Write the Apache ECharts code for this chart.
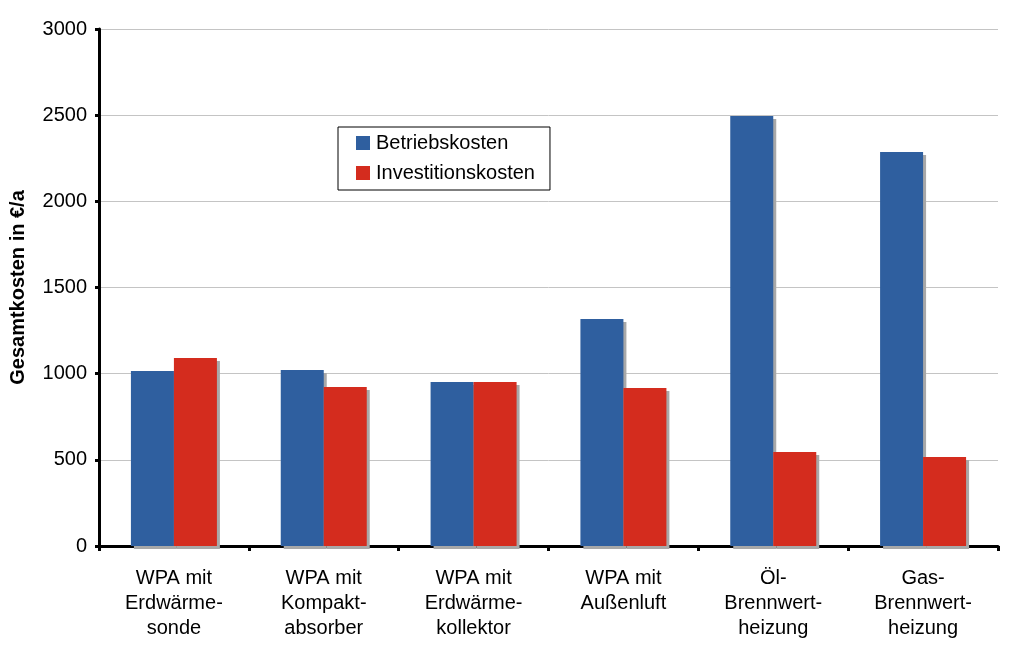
<!DOCTYPE html>
<html><head><meta charset="utf-8">
<script src="https://cdn.jsdelivr.net/npm/echarts@6/dist/echarts.min.js"></script>
<style>html,body{margin:0;padding:0;background:#fff}#c{width:1024px;height:656px}</style>
</head><body><div id="c"></div>
<script>
const categories = ["WPA mit\nErdwärme-\nsonde","WPA mit\nKompakt-\nabsorber","WPA mit\nErdwärme-\nkollektor","WPA mit\nAußenluft","Öl-\nBrennwert-\nheizung","Gas-\nBrennwert-\nheizung"];
const betriebskosten = [1015, 1021, 952, 1317, 2495, 2286];
const investitionskosten = [1091, 923, 952, 917, 545, 516];
const yTicks = [0, 500, 1000, 1500, 2000, 2500, 3000];

const chart = echarts.init(document.getElementById('c'));
const font = 'Liberation Sans, Arial, sans-serif';
const shadow = {shadowColor:'#a8a8a8', shadowOffsetX:3, shadowOffsetY:3, shadowBlur:0};
chart.setOption({
  animation:false,
  backgroundColor:'#fff',
  textStyle:{fontFamily:font},
  grid:{left:99, right:26, top:29, bottom:110, containLabel:false, outerBoundsMode:'none'},
  legend:{
    orient:'vertical', left:338, top:127,
    padding:[6,15,7,18], itemGap:10, itemWidth:14, itemHeight:14,
    borderColor:'#000', borderWidth:1, backgroundColor:'#fff',
    icon:'rect',
    textStyle:{fontFamily:font, fontSize:20, lineHeight:20, color:'#000', padding:[0,0,0,1]},
    data:['Betriebskosten','Investitionskosten']
  },
  xAxis:{
    type:'category', data:categories,
    axisLine:{lineStyle:{color:'#000', width:3}},
    axisTick:{show:true, length:5, lineStyle:{color:'#000', width:3}, alignWithLabel:false},
    axisLabel:{fontFamily:font, fontSize:20, color:'#000', lineHeight:25, margin:20, interval:0}
  },
  yAxis:{
    type:'value', min:0, max:3000, interval:500,
    name:'Gesamtkosten in €/a', nameLocation:'middle', nameGap:71, nameRotate:90,
    nameTextStyle:{fontFamily:font, fontSize:20, fontWeight:'bold', color:'#000'},
    axisLine:{show:true, lineStyle:{color:'#000', width:3}},
    axisTick:{show:true, length:4, lineStyle:{color:'#000', width:3}},
    axisLabel:{fontFamily:font, fontSize:20, color:'#000', margin:12,
      formatter:v => yTicks.includes(v) ? String(v) : ''},
    splitLine:{lineStyle:{color:'#c4c4c4', width:1}}
  },
  series:[
    {name:'Betriebskosten', type:'bar', data:betriebskosten, barWidth:43, barGap:'0%',
      itemStyle:Object.assign({color:'#2F5F9F'}, shadow)},
    {name:'Investitionskosten', type:'bar', data:investitionskosten, barWidth:43, barGap:'0%',
      itemStyle:Object.assign({color:'#D42C1E'}, shadow)}
  ]
});
</script></body></html>
